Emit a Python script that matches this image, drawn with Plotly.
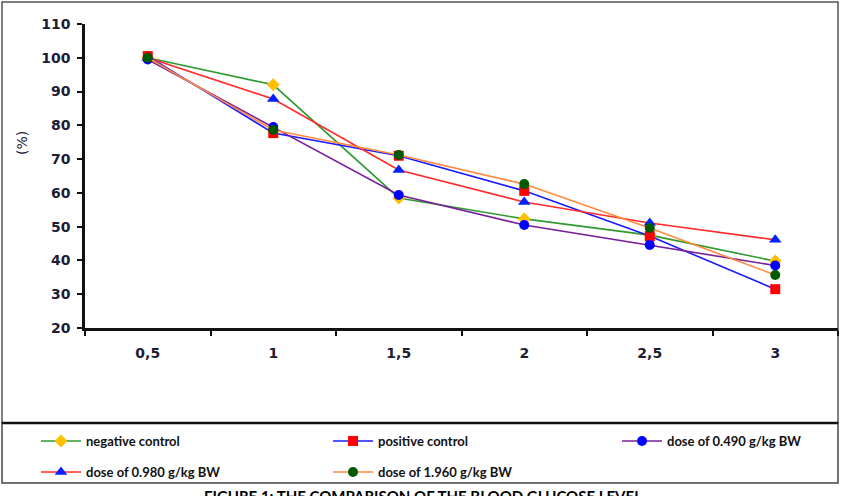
import plotly.graph_objects as go

categories = ["0,5", "1", "1,5", "2", "2,5", "3"]
negative_control = [100, 92, 58.5, 52.3, 47.5, 39.8]
positive_control = [100.5, 77.7, 71, 60.6, 47.2, 31.5]
dose_0490 = [99.5, 79.5, 59.4, 50.5, 44.6, 38.5]
dose_0980 = [100, 87.8, 66.8, 57.3, 51.1, 46.1]
dose_1960 = [100, 78.6, 71.2, 62.6, 49.6, 35.7]

series = [
    ("negative control", negative_control, "#2f9a2f", "#FFC000", "diamond", 10, "legend"),
    ("positive control", positive_control, "#1a1aff", "#FF0000", "square", 10, "legend"),
    ("dose of 0.490 g/kg BW", dose_0490, "#7a1f9a", "#0000FF", "circle", 10, "legend3"),
    ("dose of 0.980 g/kg BW", dose_0980, "#ff2a2a", "#0022FF", "triangle-up", 11, "legend2"),
    ("dose of 1.960 g/kg BW", dose_1960, "#ff8a3d", "#005a00", "circle", 10, "legend2"),
]

W, H = 846, 496
L, T, R, B = 85, 24, 838, 328
PW, PH = R - L, B - T


def px(x):
    return (x - L) / PW


def py(y):
    return (B - y) / PH


fig = go.Figure()
for name, vals, lc, mc, sym, ms, lg in series:
    fig.add_trace(go.Scatter(
        x=categories, y=vals, name=name, mode="lines+markers",
        line=dict(color=lc, width=1.6),
        marker=dict(color=mc, symbol=sym, size=ms, line=dict(width=0)),
        legend=lg,
    ))

tickfont = dict(family="DejaVu Sans", size=14, color="#1c1c34", weight="bold")
legfont = dict(family="Lato", size=13, color="#111111", weight="bold")


def leg(xpix, ypix, ew):
    d = dict(
        orientation="h", x=px(xpix), xanchor="left", y=py(ypix), yanchor="middle",
        font=legfont, bgcolor="rgba(0,0,0,0)", itemwidth=40, traceorder="normal",
    )
    if ew:
        d.update(entrywidth=ew, entrywidthmode="pixels")
    return d


fig.update_layout(
    width=W, height=H,
    margin=dict(l=L, r=W - R, t=T, b=H - B),
    paper_bgcolor="white", plot_bgcolor="white",
    showlegend=True,
    xaxis=dict(
        type="category", range=[-0.5, 5.5], tickson="boundaries",
        ticks="outside", ticklen=5, tickwidth=2, tickcolor="#111",
        showline=True, linecolor="#111", linewidth=2.5,
        showgrid=False, zeroline=False, tickfont=tickfont,
        ticklabelstandoff=10,
    ),
    yaxis=dict(
        range=[20, 110], dtick=10, tick0=20,
        ticks="outside", ticklen=5, tickwidth=2, tickcolor="#111",
        showline=True, linecolor="#111", linewidth=2.5,
        showgrid=False, zeroline=False, tickfont=tickfont,
        ticklabelstandoff=4,
    ),
    legend=leg(36, 441, 237),
    legend2=leg(36, 472, 237),
    legend3=leg(617, 441, None),
    shapes=[
        dict(type="rect", xref="paper", yref="paper",
             x0=px(2), x1=px(838), y0=py(423), y1=py(2),
             line=dict(color="#555", width=1.5), layer="below"),
        dict(type="rect", xref="paper", yref="paper",
             x0=px(2), x1=px(838), y0=py(483), y1=py(423),
             line=dict(color="#444", width=1.5), layer="below"),
        dict(type="line", xref="paper", yref="paper",
             x0=px(2), x1=px(838), y0=py(423), y1=py(423),
             line=dict(color="#111", width=2.5)),
    ],
    annotations=[
        dict(text="(%)", xref="paper", yref="paper", x=px(22), y=py(143),
             xanchor="center", textangle=-90, showarrow=False,
             font=dict(family="DejaVu Sans", size=14, color="#1c1c34")),
        dict(text="FIGURE 1: THE COMPARISON OF THE BLOOD GLUCOSE LEVEL",
             xref="paper", yref="paper", x=px(423), y=py(485), yanchor="top",
             xanchor="center", showarrow=False,
             font=dict(family="Lato", size=15, color="#000", weight="bold")),
    ],
)

fig.write_html("out.html")
